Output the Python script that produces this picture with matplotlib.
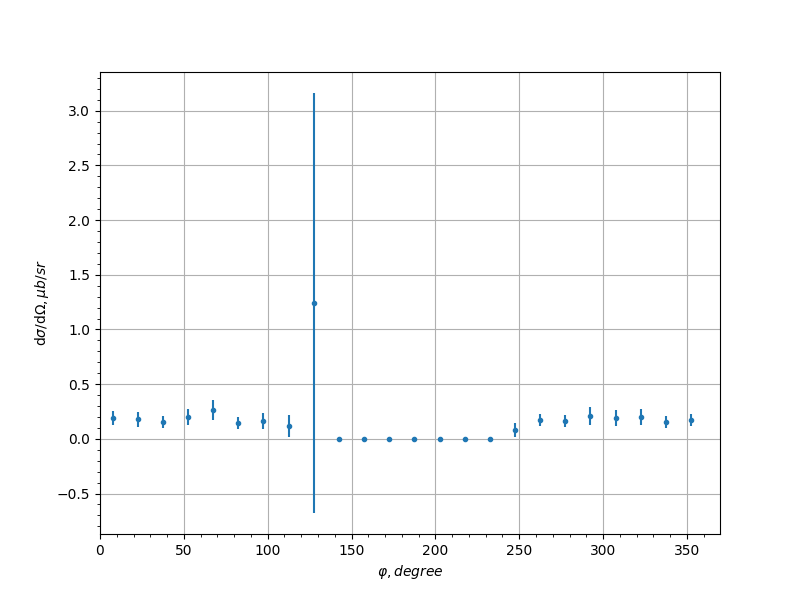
import numpy as np
import matplotlib
matplotlib.use("Agg")
import matplotlib.pyplot as plt

phi = np.arange(7.5, 360, 15)
xsec = [0.19, 0.18, 0.153, 0.20, 0.264, 0.147, 0.163, 0.12, 1.242,
        0, 0, 0, 0, 0, 0, 0,
        0.08, 0.172, 0.163, 0.209, 0.19, 0.20, 0.153, 0.172]
err = [0.066, 0.068, 0.058, 0.072, 0.095, 0.053, 0.072, 0.10, 1.92,
       0, 0, 0, 0, 0, 0, 0,
       0.062, 0.057, 0.057, 0.085, 0.071, 0.071, 0.053, 0.053]

fig = plt.figure(figsize=(8, 6), dpi=100)
plt.errorbar(phi, xsec, yerr=err, fmt='.')
plt.xlim(left=0)
plt.minorticks_on()
plt.grid(which='major')
plt.xlabel(r'$\varphi, degree$')
plt.ylabel(r'd$\sigma$/d$\Omega, \mu b/sr$')
plt.savefig("out.png")
